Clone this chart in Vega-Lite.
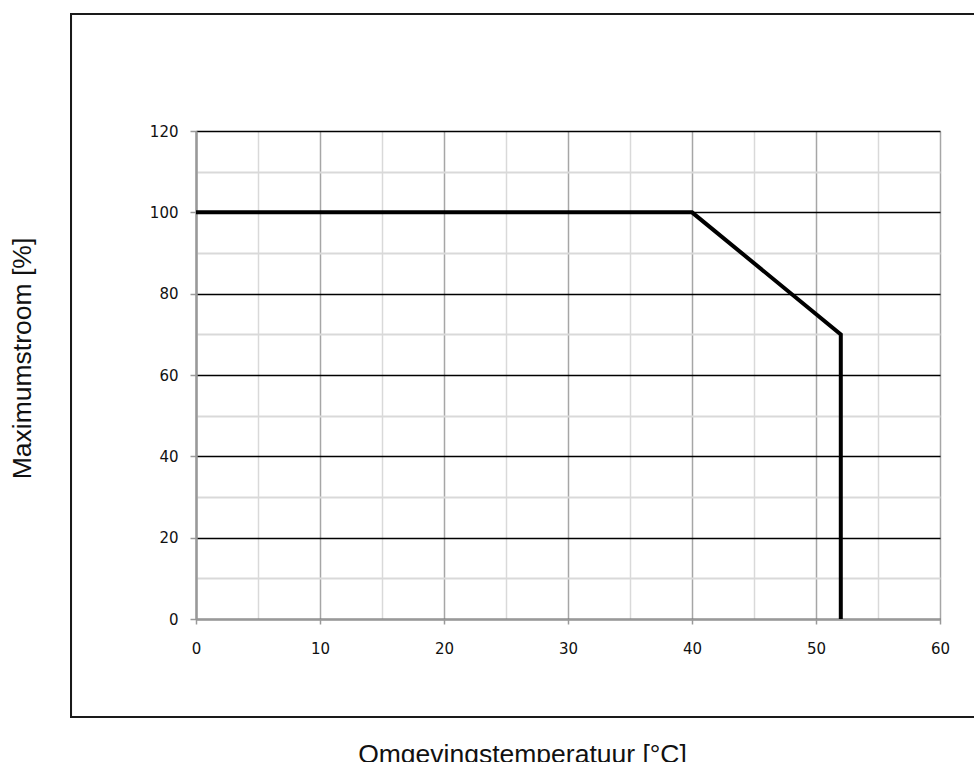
{
  "$schema": "https://vega.github.io/schema/vega-lite/v6.json",
  "autosize": "none",
  "width": 744,
  "height": 488,
  "padding": {"left": 196, "top": 131, "right": 34, "bottom": 143},
  "background": "white",
  "config": {
    "view": {"stroke": null},
    "axis": {"labelFont": "DejaVu Sans", "labelFontSize": 15, "labelColor": "#111", "titleFont": "Liberation Sans", "titleFontSize": 26.5, "titleFontWeight": "normal", "titleColor": "#111"}
  },
  "data": {"values": [
    {"temp": 0, "stroom": 100, "idx": 0},
    {"temp": 40, "stroom": 100, "idx": 1},
    {"temp": 52, "stroom": 70, "idx": 2},
    {"temp": 52, "stroom": 0, "idx": 3}
  ]},
  "layer": [
    {
      "mark": {"type": "line", "color": "black", "strokeWidth": 4, "strokeJoin": "miter", "strokeCap": "butt"},
      "encoding": {
        "x": {"field": "temp", "type": "quantitative",
          "scale": {"domain": [0, 60], "nice": false, "zero": false},
          "axis": {
            "title": "Omgevingstemperatuur [°C]",
            "values": [0,5,10,15,20,25,30,35,40,45,50,55,60],
            "labelExpr": "datum.value % 10 === 0 ? datum.label : ''",
            "grid": true,
            "gridColor": {"condition": {"test": "datum.value % 10 === 0", "value": "#a6a6a6"}, "value": "#d9d9d9"},
            "gridWidth": 1.5,
            "domainColor": "#999999", "domainWidth": 2,
            "tickColor": {"condition": {"test": "datum.value % 10 === 0", "value": "#999999"}, "value": "transparent"},
            "tickSize": 5, "tickWidth": 1.5,
            "labelPadding": 17, "labelFlush": false,
            "titleX": 326, "titleY": 143, "titleAlign": "center", "titleBaseline": "alphabetic", "titleAnchor": null
          }},
        "y": {"field": "stroom", "type": "quantitative",
          "scale": {"domain": [0, 120], "nice": false, "zero": false},
          "axis": {
            "title": "Maximumstroom [%]",
            "values": [0,5,10,15,20,25,30,35,40,45,50,55,60,65,70,75,80,85,90,95,100,105,110,115,120],
            "labelExpr": "datum.value % 20 === 0 ? datum.label : ''",
            "grid": true,
            "gridColor": {"condition": {"test": "datum.value % 20 === 0", "value": "#000000"}, "value": "#d9d9d9"},
            "gridWidth": {"condition": {"test": "datum.value % 20 === 0", "value": 1.5}, "value": 2},
            "domainColor": "#999999", "domainWidth": 2.5,
            "tickColor": {"condition": {"test": "datum.value % 20 === 0", "value": "#999999"}, "value": "transparent"},
            "tickSize": 6, "tickWidth": 1.5,
            "labelPadding": 12, "labelFlush": false,
            "titleX": -174, "titleY": 227, "titleAngle": -90, "titleAlign": "center", "titleBaseline": "middle", "titleAnchor": null
          }},
        "order": {"field": "idx", "type": "quantitative"}
      }
    },
    {
      "mark": {"type": "rect", "fill": null, "stroke": "#1a1a1a", "strokeWidth": 2, "clip": false},
      "encoding": {
        "x": {"datum": -10.08, "type": "quantitative"},
        "x2": {"datum": 63},
        "y": {"datum": 148.8, "type": "quantitative"},
        "y2": {"datum": -24.1}
      }
    }
  ]
}
